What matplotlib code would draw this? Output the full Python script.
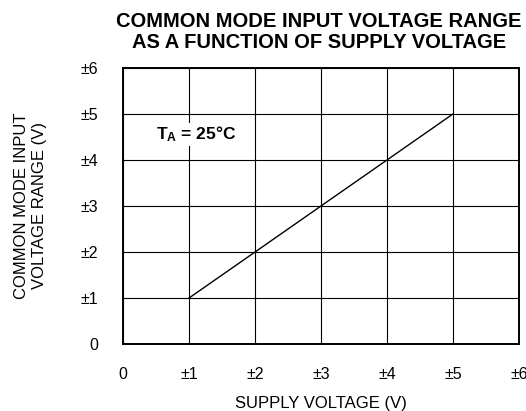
import matplotlib
matplotlib.use('Agg')
from matplotlib import pyplot as plt

plt.rcParams['font.family'] = ['Liberation Sans', 'DejaVu Sans']
plt.rcParams['mathtext.fontset'] = 'custom'
plt.rcParams['mathtext.rm'] = 'Liberation Sans'
plt.rcParams['mathtext.bf'] = 'Liberation Sans:bold'

# data
supply_voltage = [1, 2, 3, 4, 5]
cm_range = [1, 2, 3, 4, 5]
tick_values = [0, 1, 2, 3, 4, 5, 6]
tick_labels = ['0', '±1', '±2', '±3', '±4', '±5', '±6']

fig = plt.figure(figsize=(5.26, 4.11), dpi=100)
ax = fig.add_axes([0.234, 0.163, 0.753, 0.672])

ax.plot(supply_voltage, cm_range, color='black', linewidth=1.0)

ax.set_xlim(0, 6)
ax.set_ylim(0, 6)
ax.set_xticks(tick_values)
ax.set_yticks(tick_values)
ax.set_xticklabels(tick_labels, fontsize=11.5)
ax.set_yticklabels(tick_labels, fontsize=11.5)
ax.tick_params(axis='x', length=0, pad=16.5)
ax.tick_params(axis='y', length=0, pad=18)
ax.grid(True, color='black', linewidth=0.8)
for sp in ax.spines.values():
    sp.set_linewidth(1.4)

ax.text(1.1, 4.55, r'$\mathbf{T_A}$ = 25°C', fontsize=12.5, fontweight='bold',
        ha='center', va='center',
        bbox=dict(facecolor='white', edgecolor='none', pad=1))

ax.set_xlabel('SUPPLY VOLTAGE (V)', fontsize=12, labelpad=10)
ax.set_ylabel('COMMON MODE INPUT\nVOLTAGE RANGE (V)', fontsize=12, labelpad=24,
              linespacing=1.25)
fig.text(0.606, 0.97, 'COMMON MODE INPUT VOLTAGE RANGE\nAS A FUNCTION OF SUPPLY VOLTAGE',
         ha='center', va='top', fontsize=14.5, fontweight='bold', linespacing=1.1)

fig.savefig('out.png', dpi=100)
